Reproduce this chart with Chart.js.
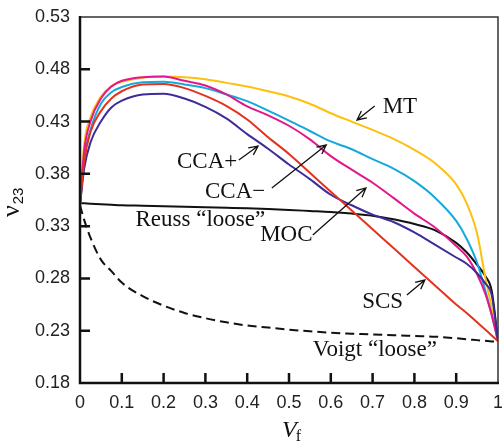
<!DOCTYPE html>
<html>
<head>
<meta charset="utf-8">
<script src="https://cdn.jsdelivr.net/npm/chart.js@4/dist/chart.umd.min.js"></script>
<style>
  html, body { margin: 0; padding: 0; background: #fff; }
  #wrap { width: 502px; height: 442px; position: relative; }
</style>
</head>
<body>
<div id="wrap"><canvas id="chart"></canvas></div>
<script>
// fibre volume fraction samples
const vf = [0, 0.01, 0.025, 0.05, 0.075, 0.1, 0.15, 0.2, 0.25, 0.3, 0.35, 0.4, 0.45, 0.5,
  0.55, 0.6, 0.65, 0.7, 0.75, 0.8, 0.85, 0.9, 0.925, 0.95, 0.97, 0.985, 1];

// transverse Poisson's ratio nu23 for each model
const mt = [0.350, 0.408, 0.434, 0.454, 0.464, 0.468, 0.472, 0.473, 0.4725, 0.4705, 0.467, 0.4635, 0.459, 0.454,
  0.447, 0.438, 0.430, 0.422, 0.4135, 0.403, 0.390, 0.370, 0.352, 0.323, 0.280, 0.252, 0.220];
const ccaMinus = [0.350, 0.395, 0.422, 0.447, 0.458, 0.463, 0.4675, 0.468, 0.4655, 0.462, 0.456, 0.4495, 0.4405, 0.431,
  0.421, 0.411, 0.4035, 0.394, 0.385, 0.373, 0.357, 0.335, 0.318, 0.295, 0.268, 0.245, 0.220];
const moc = [0.350, 0.402, 0.430, 0.452, 0.4635, 0.469, 0.4725, 0.473, 0.469, 0.4645, 0.456, 0.4445, 0.436, 0.426,
  0.413, 0.397, 0.384, 0.3715, 0.357, 0.342, 0.3285, 0.311, 0.301, 0.284, 0.265, 0.245, 0.220];
const scs = [0.350, 0.392, 0.420, 0.440, 0.452, 0.459, 0.4655, 0.466, 0.462, 0.4545, 0.445, 0.432, 0.415, 0.399,
  0.381, 0.363, 0.345, 0.327, 0.309, 0.291, 0.273, 0.255, 0.247, 0.238, 0.231, 0.2255, 0.220];
const ccaPlus = [0.350, 0.385, 0.410, 0.430, 0.4435, 0.450, 0.456, 0.4565, 0.452, 0.444, 0.433, 0.418, 0.404, 0.389,
  0.375, 0.360, 0.350, 0.341, 0.334, 0.324, 0.312, 0.300, 0.294, 0.285, 0.275, 0.264, 0.220];
const reuss = [0.352, 0.3518, 0.3515, 0.351, 0.3505, 0.350, 0.3495, 0.349, 0.3485, 0.348, 0.3475, 0.347, 0.3463, 0.3455,
  0.3445, 0.3435, 0.342, 0.340, 0.3365, 0.332, 0.326, 0.314, 0.305, 0.293, 0.282, 0.268, 0.220];
const voigt = [0.350, 0.336, 0.319, 0.298, 0.287, 0.276, 0.263, 0.254, 0.247, 0.242, 0.238, 0.235, 0.233, 0.231,
  0.2295, 0.228, 0.2272, 0.2265, 0.2257, 0.225, 0.2243, 0.2228, 0.2218, 0.221, 0.2203, 0.2198, 0.2195];

const xTicks = [0, 0.1, 0.2, 0.3, 0.4, 0.5, 0.6, 0.7, 0.8, 0.9, 1];
const xTickLabels = ["0", "0.1", "0.2", "0.3", "0.4", "0.5", "0.6", "0.7", "0.8", "0.9", "1"];
const yTicks = [0.18, 0.23, 0.28, 0.33, 0.38, 0.43, 0.48, 0.53];
const yTickLabels = ["0.18", "0.23", "0.28", "0.33", "0.38", "0.43", "0.48", "0.53"];

const pts = (ys) => vf.map((x, i) => ({ x, y: ys[i] }));

function series(data, color, dash) {
  return {
    data: pts(data),
    borderColor: color,
    borderWidth: 2,
    borderDash: dash || [],
    pointRadius: 0,
    fill: false,
    cubicInterpolationMode: "monotone",
  };
}

// curve labels with leader arrows, in data coordinates
const notes = [
  { text: "MT", x: 0.724, y: 0.444, align: "left", arrow: [0.705, 0.4449, 0.6627, 0.4315] },
  { text: "CCA+", x: 0.232, y: 0.3913, align: "left", arrow: [0.380, 0.3932, 0.426, 0.4066] },
  { text: "CCA\u2212", x: 0.299, y: 0.3626, align: "left", arrow: [0.459, 0.3665, 0.589, 0.4076] },
  { text: "Reuss \u201cloose\u201d", x: 0.443, y: 0.3359, align: "right" },
  { text: "MOC", x: 0.431, y: 0.3215, align: "left", arrow: [0.557, 0.3215, 0.684, 0.3665] },
  { text: "SCS", x: 0.675, y: 0.2574, align: "left", arrow: [0.782, 0.2641, 0.825, 0.2785] },
  { text: "Voigt \u201cloose\u201d", x: 0.557, y: 0.2116, align: "left" },
];

const frame = {
  id: "frame",
  afterDraw(chart) {
    const { ctx, chartArea: a, scales } = chart;
    const xs = scales.x, ys = scales.y;
    ctx.save();

    // labels and arrows
    ctx.font = "23px 'Liberation Serif', 'Times New Roman', serif";
    ctx.fillStyle = "#111";
    ctx.textBaseline = "middle";
    notes.forEach((n) => {
      ctx.textAlign = n.align;
      ctx.fillText(n.text, xs.getPixelForValue(n.x), ys.getPixelForValue(n.y));
      if (n.arrow) {
        const x0 = xs.getPixelForValue(n.arrow[0]), y0 = ys.getPixelForValue(n.arrow[1]);
        const x1 = xs.getPixelForValue(n.arrow[2]), y1 = ys.getPixelForValue(n.arrow[3]);
        const ang = Math.atan2(y1 - y0, x1 - x0);
        ctx.strokeStyle = "#111";
        ctx.lineWidth = 1.3;
        ctx.beginPath();
        ctx.moveTo(x0, y0);
        ctx.lineTo(x1, y1);
        ctx.moveTo(x1 - 10 * Math.cos(ang - 0.45), y1 - 10 * Math.sin(ang - 0.45));
        ctx.lineTo(x1, y1);
        ctx.lineTo(x1 - 10 * Math.cos(ang + 0.45), y1 - 10 * Math.sin(ang + 0.45));
        ctx.stroke();
      }
    });

    // box: thin top/right, heavy left/bottom
    ctx.strokeStyle = "#333";
    ctx.lineWidth = 1.5;
    ctx.beginPath();
    ctx.moveTo(a.left, a.top);
    ctx.lineTo(a.right, a.top);
    ctx.lineTo(a.right, a.bottom);
    ctx.stroke();
    ctx.strokeStyle = "#111";
    ctx.lineWidth = 2.5;
    ctx.beginPath();
    ctx.moveTo(a.left, a.top - 1);
    ctx.lineTo(a.left, a.bottom);
    ctx.lineTo(a.right + 1, a.bottom);
    // inward ticks
    xTicks.slice(1, -1).forEach((v) => {
      const px = xs.getPixelForValue(v);
      ctx.moveTo(px, a.bottom);
      ctx.lineTo(px, a.bottom - 10);
    });
    yTicks.slice(1, -1).forEach((v) => {
      const py = ys.getPixelForValue(v);
      ctx.moveTo(a.left, py);
      ctx.lineTo(a.left + 10, py);
    });
    ctx.stroke();

    // axis titles
    ctx.fillStyle = "#111";
    ctx.textAlign = "left";
    ctx.textBaseline = "alphabetic";
    ctx.font = "italic 24px 'Liberation Serif', serif";
    ctx.fillText("V", 282, 437);
    const vw = ctx.measureText("V").width;
    ctx.font = "16px 'Liberation Serif', serif";
    ctx.fillText("f", 282 + vw - 1, 441);

    ctx.translate(19, 217);
    ctx.rotate(-Math.PI / 2);
    ctx.font = "26px 'Liberation Serif', serif";
    ctx.fillText("\u03bd", 0, 0);
    const nw = ctx.measureText("\u03bd").width;
    ctx.font = "15px 'Liberation Sans', Arial, sans-serif";
    ctx.fillText("23", nw + 1, 4);
    ctx.restore();
  },
};

new Chart(document.getElementById("chart"), {
  type: "line",
  data: {
    datasets: [
      series(scs, "#e5321f"),
      series(ccaPlus, "#3c2d98"),
      series(moc, "#e4168b"),
      series(ccaMinus, "#14a9db"),
      series(mt, "#fdc00f"),
      series(reuss, "#111"),
      series(voigt, "#111", [9, 5]),
    ],
  },
  options: {
    responsive: true,
    maintainAspectRatio: false,
    animation: false,
    devicePixelRatio: 1,
    layout: { padding: { top: 17, right: 4, left: 0, bottom: 0 } },
    plugins: { legend: { display: false }, tooltip: { enabled: false } },
    scales: {
      x: {
        type: "linear",
        min: 0,
        max: 1,
        afterBuildTicks: (s) => { s.ticks = xTicks.map((v) => ({ value: v })); },
        afterFit: (s) => { s.height = 59; s.paddingLeft = 0; s.paddingRight = 0; },
        grid: { display: false, drawTicks: false },
        border: { display: false },
        ticks: {
          padding: 9,
          color: "#222",
          font: { family: "'Liberation Sans', Arial, sans-serif", size: 18 },
          callback: (v, i) => xTickLabels[i],
          maxRotation: 0,
        },
      },
      y: {
        type: "linear",
        min: 0.18,
        max: 0.53,
        afterBuildTicks: (s) => { s.ticks = yTicks.map((v) => ({ value: v })); },
        afterFit: (s) => { s.width = 80; s.paddingTop = 0; s.paddingBottom = 0; },
        grid: { display: false, drawTicks: false },
        border: { display: false },
        ticks: {
          padding: 10,
          color: "#222",
          font: { family: "'Liberation Sans', Arial, sans-serif", size: 18 },
          callback: (v, i) => yTickLabels[i],
        },
      },
    },
  },
  plugins: [frame],
});
</script>
</body>
</html>
